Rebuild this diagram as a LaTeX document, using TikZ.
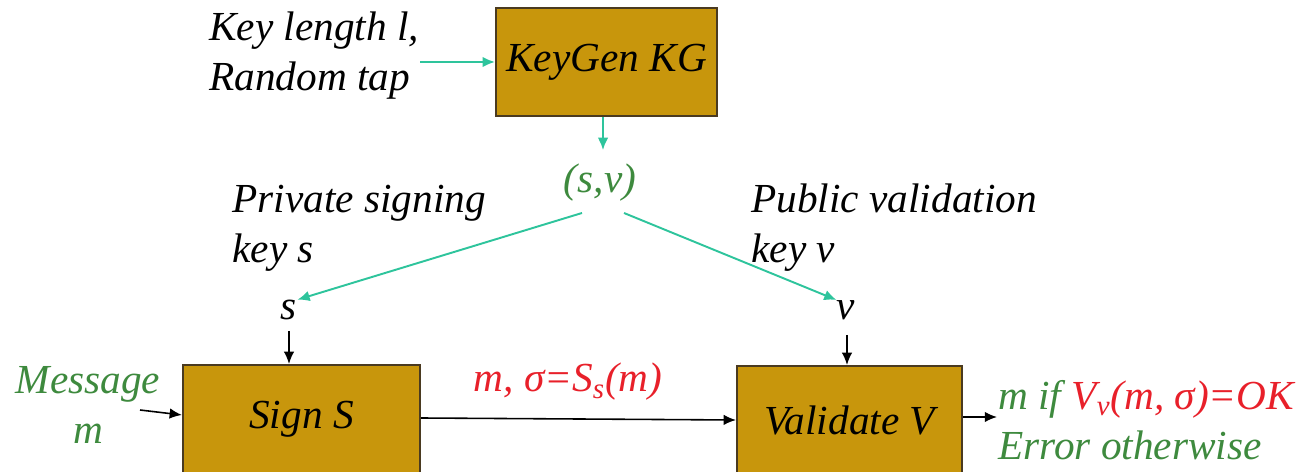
\documentclass[tikz,border=0pt]{standalone}
\usepackage{fontspec}
\setmainfont{Liberation Serif}
\usetikzlibrary{arrows.meta}
\definecolor{boxfill}{HTML}{C8960C}
\definecolor{boxdraw}{HTML}{4A3A20}
\definecolor{txtgreen}{HTML}{3E8A3E}
\definecolor{teal}{HTML}{2EC49C}
\definecolor{txtred}{HTML}{E8202A}
\tikzset{
  blk/.style={draw=boxdraw, line width=1.2pt, fill=boxfill, inner sep=0pt, font=\fontsize{23.5}{28.5}\selectfont\itshape},
  lbl/.style={inner sep=0pt, font=\fontsize{23.5}{28.5}\selectfont\itshape, align=left},
  tarr/.style={draw=teal, line width=1.1pt, -{Latex[length=7pt,width=6pt]}},
  barr/.style={draw=black, line width=0.9pt, -{Latex[length=7pt,width=6pt]}},
}
\begin{document}
\begin{tikzpicture}[x=0.02cm,y=-0.02cm]
\useasboundingbox (0,0) rectangle (1303,472);
% boxes
\node[blk, minimum width=221*0.02cm, minimum height=108*0.02cm] (kg) at (606.5,62) {KeyGen KG};
\node[blk, minimum width=237*0.02cm, minimum height=108*0.02cm] (sg) at (301.5,419) {Sign S};
\node[blk, minimum width=225*0.02cm, minimum height=108*0.02cm] (va) at (849.5,420) {Validate V};
% texts
\node[lbl, anchor=west] (kin) at (209,56) {Key length \textit{l},\\Random tap};
\node[lbl, text=txtgreen] (sv) at (600,183) {(s,v)};
\node[lbl, anchor=west] (priv) at (232,228) {Private signing\\key s};
\node[lbl, anchor=west] (pub) at (751,228) {Public validation\\key v};
\node[lbl] (s) at (289,310) {s};
\node[lbl] (v) at (846,310) {v};
\node[lbl, text=txtgreen, align=center] (msg) at (88,405) {Message\\m};
\node[lbl, text=txtred] (sig) at (568,382) {m, σ=S\textsubscript{s}(m)};
\node[lbl, anchor=west] (out) at (998,420) {\textcolor{txtgreen}{m if }\textcolor{txtred}{V\textsubscript{v}(m, σ)=OK}\\\textcolor{txtgreen}{Error otherwise}};
% connectors
\coordinate (kinE) at (420,62);
\draw[tarr] (kinE) -- (kg.west |- kinE);
\draw[tarr] (kg.south -| 603,0) -- (603,150);
\coordinate (svL) at (582,213);
\coordinate (svR) at (624,213);
\draw[tarr] (svL) -- (s.north east);
\draw[tarr] (svR) -- (v.north west);
\draw[barr] (289,331) -- (sg.north -| 289,0);
\draw[barr] (847,335) -- (va.north -| 847,0);
\coordinate (msgE) at (140,410);
\draw[barr] (msgE) -- (sg.west |- 0,415);
\draw[barr] (sg.east |- 0,418) -- (va.west |- 0,420);
\draw[barr] (va.east |- 0,417) -- ++(34,0);
\end{tikzpicture}
\end{document}
